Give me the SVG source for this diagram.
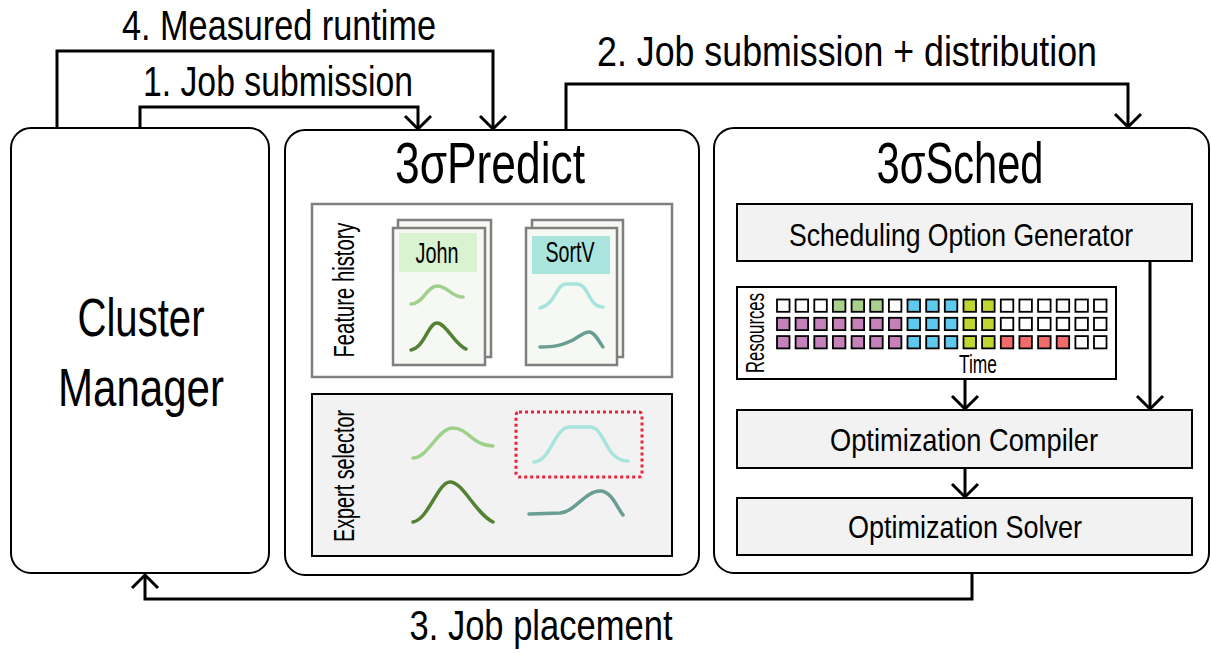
<svg xmlns="http://www.w3.org/2000/svg" width="1211" height="653" viewBox="0 0 1211 653">
<style>
text{font-family:"Liberation Sans Narrow","Liberation Sans",Arial,sans-serif;fill:#000}
.box{fill:#fff;stroke:#000;stroke-width:2}
.sub{fill:#f2f2f2;stroke:#000;stroke-width:2}
.conn{fill:none;stroke:#000;stroke-width:3}
.card{fill:#f6f8f4;stroke:#7f7f7f;stroke-width:2.5}
.crv{fill:none;stroke-width:3.5;stroke-linecap:round}
.sq{stroke:#000;stroke-width:1.8}
.w{fill:#fff}.g{fill:#a9d18e}.b{fill:#5ec8ef}.y{fill:#bfd630}.p{fill:#c581ba}.r{fill:#f26a6a}
</style>
<defs>
<marker id="ah" markerUnits="userSpaceOnUse" markerWidth="30" markerHeight="30" refX="15" refY="15" orient="auto" overflow="visible">
<path d="M2,2 L15,15 L2,28" fill="none" stroke="#000" stroke-width="3"/>
</marker>
</defs>

<g id="cluster-manager">
<rect class="box" x="11" y="128" width="258" height="445" rx="20"/>
<text x="141" y="336" font-size="53" text-anchor="middle" textLength="127" lengthAdjust="spacingAndGlyphs">Cluster</text>
<text x="141" y="406" font-size="53" text-anchor="middle" textLength="166" lengthAdjust="spacingAndGlyphs">Manager</text>
</g>

<g id="predict">
<rect class="box" x="285" y="130" width="414" height="445" rx="20"/>
<text x="490" y="183" font-size="57" text-anchor="middle" textLength="190" lengthAdjust="spacingAndGlyphs">3σPredict</text>
</g>

<g id="feature-history">
<rect x="312" y="204" width="360" height="173" fill="#fff" stroke="#808080" stroke-width="2.5"/>
<text transform="translate(354,290) rotate(-90)" font-size="30" text-anchor="middle" textLength="135" lengthAdjust="spacingAndGlyphs">Feature history</text>
<rect class="card" x="398" y="220" width="93" height="137"/>
<rect class="card" x="393" y="228" width="92" height="137"/>
<rect x="399" y="233" width="78" height="39" fill="#d9f2d0"/>
<text x="437" y="263" font-size="30" text-anchor="middle" textLength="43" lengthAdjust="spacingAndGlyphs">John</text>
<path class="crv" stroke="#9fd18c" d="M411,304 C423,304 427,286 437,286 C448,286 451,297 463,297"/>
<path class="crv" stroke="#548235" d="M411,350 C425,347 428,323 437,323 C446,323 455,345 466,349"/>
<rect class="card" x="532" y="220" width="91" height="137"/>
<rect class="card" x="526" y="228" width="91" height="137"/>
<rect x="532" y="236" width="78" height="38" fill="#a9e5dd"/>
<text x="570" y="262" font-size="30" text-anchor="middle" textLength="49" lengthAdjust="spacingAndGlyphs">SortV</text>
<path class="crv" stroke="#a8e4de" d="M540,308 C556,304 556,284 566,284 L577,284 C589,284 588,307 603,307"/>
<path class="crv" stroke="#6a9d94" d="M540,347 C556,347 562,345 573,340 C580,336 584,332 589,332 C595,332 599,342 603,347"/>
</g>

<g id="expert-selector">
<rect class="sub" x="312" y="394" width="360" height="162" stroke-width="2.5"/>
<text transform="translate(354,476) rotate(-90)" font-size="30" text-anchor="middle" textLength="132" lengthAdjust="spacingAndGlyphs">Expert selector</text>
<path class="crv" stroke="#9fd18c" d="M413,458 C428,458 438,428 453,428 C468,428 473,446 493,446"/>
<path class="crv" stroke="#548235" d="M413,522 C428,520 438,482 450,482 C463,482 475,513 493,522"/>
<rect x="516" y="412" width="126" height="65" rx="3" fill="none" stroke="#e8243c" stroke-width="3" stroke-dasharray="3 3"/>
<path class="crv" stroke="#a8e4de" d="M534,462 C552,460 554,427 570,427 L590,427 C605,427 605,461 628,461"/>
<path class="crv" stroke="#6a9d94" d="M529,514 L560,513 C575,512 585,491 600,491 C612,491 617,508 623,515"/>
</g>

<g id="sched">
<rect class="box" x="714" y="128" width="495" height="445" rx="20"/>
<text x="960" y="183" font-size="57" text-anchor="middle" textLength="167" lengthAdjust="spacingAndGlyphs">3σSched</text>
</g>

<g id="scheduling-option-generator">
<rect class="sub" x="737" y="204" width="455" height="57"/>
<text x="961" y="246" font-size="32" text-anchor="middle" textLength="344" lengthAdjust="spacingAndGlyphs">Scheduling Option Generator</text>
</g>

<g id="schedule-grid">
<rect class="box" x="737" y="287" width="379" height="92"/>
<text transform="translate(764,333) rotate(-90)" font-size="25" text-anchor="middle" textLength="80" lengthAdjust="spacingAndGlyphs">Resources</text>
<text x="978" y="373" font-size="25" text-anchor="middle" textLength="38" lengthAdjust="spacingAndGlyphs">Time</text>
<g class="sq">
<rect class="w" x="777" y="299.5" width="12.5" height="12.3"/>
<rect class="w" x="795.6" y="299.5" width="12.5" height="12.3"/>
<rect class="w" x="814.3" y="299.5" width="12.5" height="12.3"/>
<rect class="g" x="832.9" y="299.5" width="12.5" height="12.3"/>
<rect class="g" x="851.6" y="299.5" width="12.5" height="12.3"/>
<rect class="g" x="870.2" y="299.5" width="12.5" height="12.3"/>
<rect class="w" x="888.9" y="299.5" width="12.5" height="12.3"/>
<rect class="b" x="907.5" y="299.5" width="12.5" height="12.3"/>
<rect class="b" x="926.2" y="299.5" width="12.5" height="12.3"/>
<rect class="b" x="944.8" y="299.5" width="12.5" height="12.3"/>
<rect class="y" x="963.5" y="299.5" width="12.5" height="12.3"/>
<rect class="y" x="982.1" y="299.5" width="12.5" height="12.3"/>
<rect class="w" x="1000.8" y="299.5" width="12.5" height="12.3"/>
<rect class="w" x="1019.4" y="299.5" width="12.5" height="12.3"/>
<rect class="w" x="1038.1" y="299.5" width="12.5" height="12.3"/>
<rect class="w" x="1056.7" y="299.5" width="12.5" height="12.3"/>
<rect class="w" x="1075.4" y="299.5" width="12.5" height="12.3"/>
<rect class="w" x="1094" y="299.5" width="12.5" height="12.3"/>

<rect class="p" x="777" y="317.8" width="12.5" height="12.3"/>
<rect class="p" x="795.6" y="317.8" width="12.5" height="12.3"/>
<rect class="p" x="814.3" y="317.8" width="12.5" height="12.3"/>
<rect class="p" x="832.9" y="317.8" width="12.5" height="12.3"/>
<rect class="p" x="851.6" y="317.8" width="12.5" height="12.3"/>
<rect class="p" x="870.2" y="317.8" width="12.5" height="12.3"/>
<rect class="p" x="888.9" y="317.8" width="12.5" height="12.3"/>
<rect class="b" x="907.5" y="317.8" width="12.5" height="12.3"/>
<rect class="b" x="926.2" y="317.8" width="12.5" height="12.3"/>
<rect class="b" x="944.8" y="317.8" width="12.5" height="12.3"/>
<rect class="y" x="963.5" y="317.8" width="12.5" height="12.3"/>
<rect class="y" x="982.1" y="317.8" width="12.5" height="12.3"/>
<rect class="w" x="1000.8" y="317.8" width="12.5" height="12.3"/>
<rect class="w" x="1019.4" y="317.8" width="12.5" height="12.3"/>
<rect class="w" x="1038.1" y="317.8" width="12.5" height="12.3"/>
<rect class="w" x="1056.7" y="317.8" width="12.5" height="12.3"/>
<rect class="w" x="1075.4" y="317.8" width="12.5" height="12.3"/>
<rect class="w" x="1094" y="317.8" width="12.5" height="12.3"/>

<rect class="p" x="777" y="336.1" width="12.5" height="12.3"/>
<rect class="p" x="795.6" y="336.1" width="12.5" height="12.3"/>
<rect class="p" x="814.3" y="336.1" width="12.5" height="12.3"/>
<rect class="p" x="832.9" y="336.1" width="12.5" height="12.3"/>
<rect class="p" x="851.6" y="336.1" width="12.5" height="12.3"/>
<rect class="p" x="870.2" y="336.1" width="12.5" height="12.3"/>
<rect class="p" x="888.9" y="336.1" width="12.5" height="12.3"/>
<rect class="b" x="907.5" y="336.1" width="12.5" height="12.3"/>
<rect class="b" x="926.2" y="336.1" width="12.5" height="12.3"/>
<rect class="b" x="944.8" y="336.1" width="12.5" height="12.3"/>
<rect class="y" x="963.5" y="336.1" width="12.5" height="12.3"/>
<rect class="y" x="982.1" y="336.1" width="12.5" height="12.3"/>
<rect class="r" x="1000.8" y="336.1" width="12.5" height="12.3"/>
<rect class="r" x="1019.4" y="336.1" width="12.5" height="12.3"/>
<rect class="r" x="1038.1" y="336.1" width="12.5" height="12.3"/>
<rect class="r" x="1056.7" y="336.1" width="12.5" height="12.3"/>
<rect class="w" x="1075.4" y="336.1" width="12.5" height="12.3"/>
<rect class="w" x="1094" y="336.1" width="12.5" height="12.3"/>
</g>
</g>

<g id="optimization-compiler">
<rect class="sub" x="737" y="410" width="455" height="58"/>
<text x="964" y="451" font-size="32" text-anchor="middle" textLength="268" lengthAdjust="spacingAndGlyphs">Optimization Compiler</text>
</g>

<g id="optimization-solver">
<rect class="sub" x="737" y="498" width="455" height="57"/>
<text x="965" y="538" font-size="32" text-anchor="middle" textLength="234" lengthAdjust="spacingAndGlyphs">Optimization Solver</text>
</g>

<g id="connectors">
<path class="conn" d="M57,127 V51 H493 V129" marker-end="url(#ah)"/>
<path class="conn" d="M140,127 V107 H418 V129" marker-end="url(#ah)"/>
<path class="conn" d="M566,130 V84 H1128 V127" marker-end="url(#ah)"/>
<path class="conn" d="M972,573 V599 H145 V575" marker-end="url(#ah)"/>
<path class="conn" d="M1150,261 V409" marker-end="url(#ah)"/>
<path class="conn" d="M965,379 V409" marker-end="url(#ah)"/>
<path class="conn" d="M965,468 V497" marker-end="url(#ah)"/>
<text x="279" y="40" font-size="42" text-anchor="middle" textLength="314" lengthAdjust="spacingAndGlyphs">4. Measured runtime</text>
<text x="278" y="96" font-size="42" text-anchor="middle" textLength="270" lengthAdjust="spacingAndGlyphs">1. Job submission</text>
<text x="847" y="66" font-size="42" text-anchor="middle" textLength="500" lengthAdjust="spacingAndGlyphs">2. Job submission + distribution</text>
<text x="541" y="640" font-size="42" text-anchor="middle" textLength="263" lengthAdjust="spacingAndGlyphs">3. Job placement</text>
</g>
</svg>
